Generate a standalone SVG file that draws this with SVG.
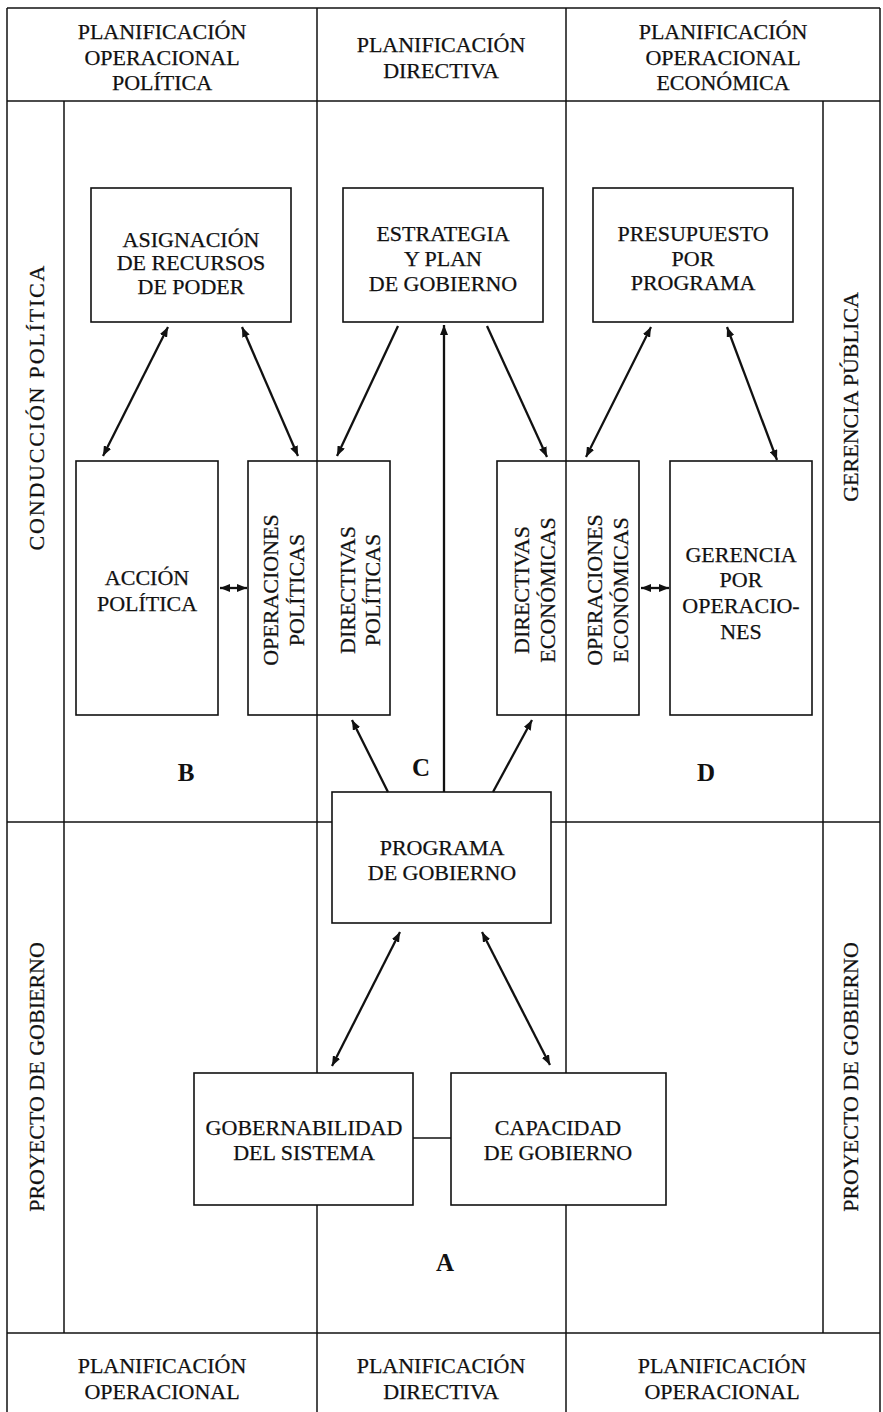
<svg xmlns="http://www.w3.org/2000/svg" width="883" height="1412" viewBox="0 0 883 1412">
<defs>
<style>
.t{font-family:"Liberation Serif","Times New Roman",serif;font-size:22px;fill:#111;text-anchor:middle;stroke:#111;stroke-width:0.25}
.l{font-family:"Liberation Serif","Times New Roman",serif;font-size:25px;font-weight:bold;fill:#111;text-anchor:middle}
.g{stroke:#111;stroke-width:1.5;fill:none}
.b{stroke:#111;stroke-width:1.6;fill:none}
.a{stroke:#111;stroke-width:2.3;fill:none}
</style>
<marker id="ah" viewBox="0 0 10 8" refX="10" refY="4" markerWidth="10" markerHeight="8" markerUnits="userSpaceOnUse" orient="auto-start-reverse">
<path d="M0,0 L10,4 L0,8 z" fill="#111"/>
</marker>
</defs>
<rect width="883" height="1412" fill="#fff"/>

<g id="grid" class="g">
<line x1="7" y1="8" x2="880" y2="8"/>
<line x1="7" y1="101" x2="880" y2="101"/>
<line x1="7" y1="1333" x2="880" y2="1333"/>
<line x1="7" y1="822" x2="332" y2="822"/>
<line x1="551" y1="822" x2="880" y2="822"/>
<line x1="7" y1="8" x2="7" y2="1412"/>
<line x1="880" y1="8" x2="880" y2="1412"/>
<line x1="64" y1="101" x2="64" y2="1333"/>
<line x1="823" y1="101" x2="823" y2="1333"/>
<line x1="317" y1="8" x2="317" y2="1073"/>
<line x1="317" y1="1205" x2="317" y2="1412"/>
<line x1="566" y1="8" x2="566" y2="1073"/>
<line x1="566" y1="1205" x2="566" y2="1412"/>
</g>

<g id="headers">
<text class="t" x="162" y="39">PLANIFICACIÓN</text>
<text class="t" x="162" y="65">OPERACIONAL</text>
<text class="t" x="162" y="90">POLÍTICA</text>
<text class="t" x="441" y="52">PLANIFICACIÓN</text>
<text class="t" x="441" y="78">DIRECTIVA</text>
<text class="t" x="723" y="39">PLANIFICACIÓN</text>
<text class="t" x="723" y="65">OPERACIONAL</text>
<text class="t" x="723" y="90">ECONÓMICA</text>
<text class="t" x="162" y="1373">PLANIFICACIÓN</text>
<text class="t" x="162" y="1399">OPERACIONAL</text>
<text class="t" x="441" y="1373">PLANIFICACIÓN</text>
<text class="t" x="441" y="1399">DIRECTIVA</text>
<text class="t" x="722" y="1373">PLANIFICACIÓN</text>
<text class="t" x="722" y="1399">OPERACIONAL</text>
</g>

<g id="bands">
<text class="t" transform="translate(44,408) rotate(-90)" textLength="285" lengthAdjust="spacing">CONDUCCIÓN POLÍTICA</text>
<text class="t" transform="translate(44,1077) rotate(-90)">PROYECTO DE GOBIERNO</text>
<text class="t" transform="translate(858,397) rotate(-90)">GERENCIA PÚBLICA</text>
<text class="t" transform="translate(858,1077) rotate(-90)">PROYECTO DE GOBIERNO</text>
</g>

<g id="asignacion">
<rect class="b" x="91" y="188" width="200" height="134"/>
<text class="t" x="191" y="247">ASIGNACIÓN</text>
<text class="t" x="191" y="270">DE RECURSOS</text>
<text class="t" x="191" y="294">DE PODER</text>
</g>
<g id="estrategia">
<rect class="b" x="343" y="188" width="200" height="134"/>
<text class="t" x="443" y="241">ESTRATEGIA</text>
<text class="t" x="443" y="266">Y PLAN</text>
<text class="t" x="443" y="291">DE GOBIERNO</text>
</g>
<g id="presupuesto">
<rect class="b" x="593" y="188" width="200" height="134"/>
<text class="t" x="693" y="241">PRESUPUESTO</text>
<text class="t" x="693" y="266">POR</text>
<text class="t" x="693" y="290">PROGRAMA</text>
</g>

<g id="accion">
<rect class="b" x="76" y="461" width="142" height="254"/>
<text class="t" x="147" y="585">ACCIÓN</text>
<text class="t" x="147" y="611">POLÍTICA</text>
</g>
<g id="politicas">
<rect class="b" x="248" y="461" width="142" height="254"/>
<text class="t" transform="translate(278,590) rotate(-90)">OPERACIONES</text>
<text class="t" transform="translate(304,590) rotate(-90)">POLÍTICAS</text>
<text class="t" transform="translate(355,590) rotate(-90)">DIRECTIVAS</text>
<text class="t" transform="translate(380,590) rotate(-90)">POLÍTICAS</text>
</g>
<g id="economicas">
<rect class="b" x="497" y="461" width="142" height="254"/>
<text class="t" transform="translate(529,590) rotate(-90)">DIRECTIVAS</text>
<text class="t" transform="translate(555,590) rotate(-90)">ECONÓMICAS</text>
<text class="t" transform="translate(602,590) rotate(-90)">OPERACIONES</text>
<text class="t" transform="translate(628,590) rotate(-90)">ECONÓMICAS</text>
</g>
<g id="gerencia">
<rect class="b" x="670" y="461" width="142" height="254"/>
<text class="t" x="741" y="562">GERENCIA</text>
<text class="t" x="741" y="587">POR</text>
<text class="t" x="741" y="613">OPERACIO-</text>
<text class="t" x="741" y="639">NES</text>
</g>

<g id="programa">
<rect class="b" x="332" y="792" width="219" height="131"/>
<text class="t" x="442" y="855">PROGRAMA</text>
<text class="t" x="442" y="880">DE GOBIERNO</text>
</g>
<g id="gobernabilidad">
<rect class="b" x="194" y="1073" width="219" height="132"/>
<text class="t" x="304" y="1135">GOBERNABILIDAD</text>
<text class="t" x="304" y="1160">DEL SISTEMA</text>
</g>
<g id="capacidad">
<rect class="b" x="451" y="1073" width="215" height="132"/>
<text class="t" x="558" y="1135">CAPACIDAD</text>
<text class="t" x="558" y="1160">DE GOBIERNO</text>
</g>

<g id="labels">
<text class="l" x="186" y="781">B</text>
<text class="l" x="421" y="776">C</text>
<text class="l" x="706" y="781">D</text>
<text class="l" x="445" y="1271">A</text>
</g>

<g id="connectors" class="a">
<line x1="168" y1="327" x2="103" y2="456" marker-start="url(#ah)" marker-end="url(#ah)"/>
<line x1="242" y1="327" x2="298" y2="456" marker-start="url(#ah)" marker-end="url(#ah)"/>
<line x1="398" y1="326" x2="337" y2="456" marker-end="url(#ah)"/>
<line x1="487" y1="326" x2="547" y2="457" marker-end="url(#ah)"/>
<line x1="651" y1="327" x2="586" y2="457" marker-start="url(#ah)" marker-end="url(#ah)"/>
<line x1="727" y1="327" x2="777" y2="460" marker-start="url(#ah)" marker-end="url(#ah)"/>
<line x1="220" y1="588" x2="247" y2="588" marker-start="url(#ah)" marker-end="url(#ah)"/>
<line x1="641" y1="588" x2="669" y2="588" marker-start="url(#ah)" marker-end="url(#ah)"/>
<line x1="388" y1="792" x2="352" y2="720" marker-end="url(#ah)"/>
<line x1="444" y1="792" x2="444" y2="325" marker-end="url(#ah)"/>
<line x1="493" y1="792" x2="532" y2="720" marker-end="url(#ah)"/>
<line x1="400" y1="932" x2="332" y2="1066" marker-start="url(#ah)" marker-end="url(#ah)"/>
<line x1="482" y1="932" x2="550" y2="1065" marker-start="url(#ah)" marker-end="url(#ah)"/>
<line x1="413" y1="1138" x2="451" y2="1138" stroke-width="1.5"/>
</g>
</svg>
